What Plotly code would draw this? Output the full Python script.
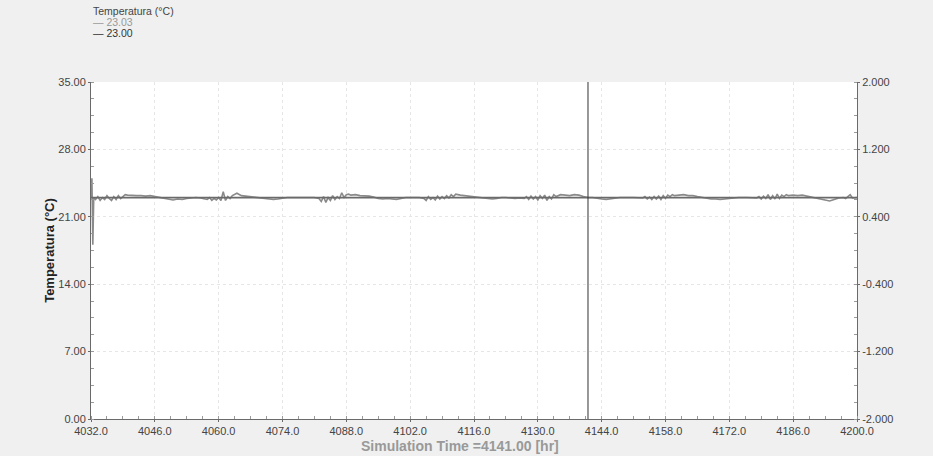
import plotly.graph_objects as go

# ---- data ----
sim_time = [
    4032.0, 4032.2, 4032.4, 4032.6, 4033.0, 4033.5, 4034.0, 4034.5, 4035.0, 4035.5,
    4036.0, 4036.5, 4037.0, 4037.5, 4038.0, 4038.5, 4039.0, 4039.5, 4040.0, 4041.0,
    4042.0, 4043.0, 4044.0, 4045.0, 4046.0, 4047.0, 4048.0, 4049.0, 4050.0, 4051.0,
    4052.0, 4053.0, 4054.0, 4055.0, 4056.0, 4057.0, 4057.5, 4058.0, 4058.5, 4059.0,
    4059.5, 4060.0, 4060.5, 4061.0, 4061.5, 4062.0, 4062.5, 4063.0, 4063.5, 4064.0,
    4065.0, 4066.0, 4067.0, 4068.0, 4069.0, 4070.0, 4071.0, 4072.0, 4073.0, 4074.0,
    4075.0, 4078.0, 4081.0, 4082.0, 4082.5, 4083.0, 4083.5, 4084.0, 4084.5, 4085.0,
    4085.5, 4086.0, 4086.5, 4087.0, 4087.5, 4088.0, 4088.5, 4089.0, 4090.0, 4091.0,
    4092.0, 4093.0, 4094.0, 4095.0, 4096.0, 4097.0, 4098.0, 4099.0, 4100.0, 4101.0,
    4104.0, 4105.0, 4105.5, 4106.0, 4106.5, 4107.0, 4107.5, 4108.0, 4108.5, 4109.0,
    4109.5, 4110.0, 4110.5, 4111.0, 4111.5, 4112.0, 4113.0, 4114.0, 4115.0, 4116.0,
    4117.0, 4118.0, 4119.0, 4120.0, 4121.0, 4122.0, 4123.0, 4124.0, 4125.0, 4126.0,
    4127.0, 4127.5, 4128.0, 4128.5, 4129.0, 4129.5, 4130.0, 4130.5, 4131.0, 4131.5,
    4132.0, 4132.5, 4133.0, 4133.5, 4134.0, 4135.0, 4136.0, 4137.0, 4138.0, 4139.0,
    4140.0, 4141.0, 4142.0, 4143.0, 4144.0, 4145.0, 4146.0, 4147.0, 4148.0, 4151.0,
    4153.0, 4153.5, 4154.0, 4154.5, 4155.0, 4155.5, 4156.0, 4156.5, 4157.0, 4157.5,
    4158.0, 4158.5, 4159.0, 4159.5, 4160.0, 4161.0, 4162.0, 4163.0, 4164.0, 4165.0,
    4166.0, 4167.0, 4168.0, 4169.0, 4170.0, 4171.0, 4172.0, 4173.0, 4174.0, 4176.0,
    4178.0, 4178.5, 4179.0, 4179.5, 4180.0, 4180.5, 4181.0, 4181.5, 4182.0, 4182.5,
    4183.0, 4183.5, 4184.0, 4184.5, 4185.0, 4186.0, 4187.0, 4188.0, 4189.0, 4190.0,
    4191.0, 4192.0, 4193.0, 4194.0, 4195.0, 4196.0, 4197.0, 4197.5, 4198.0, 4198.5,
    4199.0, 4200.0,
]
temperature = [
    23.0, 25.0, 18.1, 23.0, 22.8, 23.1, 22.7, 23.0, 22.8, 23.2,
    22.9, 22.7, 23.1, 22.8, 23.2, 22.9, 23.1, 23.3, 23.25, 23.2,
    23.2, 23.2, 23.15, 23.2, 23.1, 23.0, 22.95, 22.8, 22.75, 22.85,
    22.8, 22.9, 22.95, 23.0, 22.95, 22.9, 22.8, 23.0, 22.7, 22.9,
    22.75, 23.0, 22.7, 23.6, 22.7, 23.1, 22.9, 23.2, 23.3, 23.45,
    23.2, 23.15, 23.1, 23.05, 23.0, 22.9, 22.85, 22.8, 22.85, 22.9,
    23.0, 23.0, 23.0, 22.9, 22.6, 23.1, 22.5, 23.0, 22.7, 23.2,
    22.8, 23.1, 22.9, 23.5, 23.0, 23.3, 23.35, 23.25, 23.3, 23.2,
    23.2, 23.15, 23.05, 22.9, 22.85, 22.9, 22.85, 22.8, 22.9, 23.0,
    23.0, 22.9, 22.7, 23.1, 22.8, 23.0, 22.75, 23.15, 22.85, 23.1,
    22.9, 23.2, 22.95, 23.3, 23.1, 23.35, 23.25, 23.2, 23.15, 23.05,
    23.0, 22.95, 22.9, 22.85, 22.9, 23.0, 23.0, 22.95, 22.9, 22.95,
    22.9, 23.1, 22.8, 23.15, 22.85, 23.1, 22.75, 23.2, 22.9, 23.25,
    22.7, 23.1, 22.85, 23.3, 23.1, 23.3, 23.25, 23.2, 23.3, 23.25,
    23.1, 23.0, 23.0, 22.9, 22.85, 22.8, 22.85, 22.9, 23.0, 23.0,
    22.95, 23.1, 22.85, 23.05, 22.8, 23.1, 22.85, 23.15, 22.8, 23.2,
    22.9, 23.25, 23.1, 23.3, 23.2, 23.25, 23.3, 23.2, 23.2, 23.1,
    23.0, 22.9, 22.85, 22.85, 22.8, 22.85, 22.9, 22.95, 23.0, 23.0,
    22.95, 23.1, 22.85, 23.15, 22.9, 23.3, 22.8, 23.2, 22.85, 23.35,
    22.9, 23.25, 23.1, 23.3, 23.2, 23.25, 23.2, 23.25, 23.15, 23.1,
    23.0, 22.85, 22.75, 22.65, 22.8, 22.95, 23.0, 22.9, 23.1, 23.3,
    22.95, 23.0,
]
setpoint_value = 23.00
legend_values = ["23.03", "23.00"]
cursor_time = 4141.00

x_ticks = [4032.0, 4046.0, 4060.0, 4074.0, 4088.0, 4102.0, 4116.0, 4130.0,
           4144.0, 4158.0, 4172.0, 4186.0, 4200.0]
y_ticks = [0, 7, 14, 21, 28, 35]
y2_ticks = [-2.0, -1.2, -0.4, 0.4, 1.2, 2.0]

FONT = "Liberation Sans, Arial, sans-serif"

fig = go.Figure()
fig.add_trace(go.Scatter(
    x=sim_time, y=temperature, mode="lines",
    line=dict(color="#8a8a8a", width=1.6), showlegend=False, hoverinfo="skip"))
fig.add_trace(go.Scatter(
    x=[x_ticks[0], x_ticks[-1]], y=[setpoint_value, setpoint_value], mode="lines",
    line=dict(color="#6a6a6a", width=1.8), showlegend=False, hoverinfo="skip"))
fig.add_trace(go.Scatter(
    x=[], y=[], yaxis="y2", mode="lines", showlegend=False, hoverinfo="skip"))

fig.add_shape(type="line", xref="x", yref="paper", x0=cursor_time, x1=cursor_time,
              y0=0, y1=1, line=dict(color="#333333", width=1))

grid = dict(showgrid=True, gridcolor="#e6e6e6", griddash="dot", gridwidth=1)
axis_common = dict(showline=True, linecolor="#6a6a6a", linewidth=1, zeroline=False,
                   tickfont=dict(family=FONT, size=11, color="#444444"),
                   ticks="outside", ticklen=2, tickcolor="#6a6a6a")

fig.update_layout(
    width=933, height=456,
    margin=dict(l=91, r=76, t=82, b=37),
    paper_bgcolor="#f0f0f0", plot_bgcolor="#ffffff",
    font=dict(family=FONT, color="#444444"),
    xaxis=dict(range=[x_ticks[0], x_ticks[-1]], tickvals=x_ticks,
               ticktext=[f"{v:.1f}" for v in x_ticks], mirror=False,
               minor=dict(dtick=3.5, ticks="inside", ticklen=3, tickcolor="#9a9a9a",
                          showgrid=False),
               **grid, **axis_common),
    yaxis=dict(range=[y_ticks[0], y_ticks[-1]], tickvals=y_ticks,
               ticktext=[f"{v:.2f}" for v in y_ticks],
               title=dict(text="<b>Temperatura (°C)</b>",
                          font=dict(family=FONT, size=13, color="#222222"), standoff=0),
               minor=dict(dtick=1.75, ticks="inside", ticklen=3, tickcolor="#9a9a9a",
                          showgrid=False),
               **grid, **axis_common),
    yaxis2=dict(range=[y2_ticks[0], y2_ticks[-1]], tickvals=y2_ticks,
                ticktext=[f"{v:.3f}" for v in y2_ticks], overlaying="y", side="right",
                showgrid=False,
                minor=dict(dtick=0.2, ticks="inside", ticklen=3, tickcolor="#9a9a9a"),
                **axis_common),
)

# x-axis title as annotation (slightly left of centre, as in the reference)
fig.add_annotation(text=f"<b>Simulation Time ={cursor_time:.2f} [hr]</b>",
                   xref="paper", yref="paper", x=0.482, y=-0.080,
                   xanchor="center", yanchor="middle", showarrow=False,
                   font=dict(family=FONT, size=14, color="#999999"))

# custom legend block (top-left)
legend_rows = [("Temperatura (°C)", "#444444", 1.2107),
               ("— " + legend_values[0], "#999999", 1.1780),
               ("— " + legend_values[1], "#333333", 1.1454)]
for txt, col, ypos in legend_rows:
    fig.add_annotation(text=txt, xref="paper", yref="paper", x=0, y=ypos,
                       xanchor="left", yanchor="middle", showarrow=False,
                       font=dict(family=FONT, size=10.5, color=col))

fig.write_html("out.html", config={"displayModeBar": False},
               post_script="document.body.style.margin='0';"
                           "document.body.style.background='#f0f0f0';")
